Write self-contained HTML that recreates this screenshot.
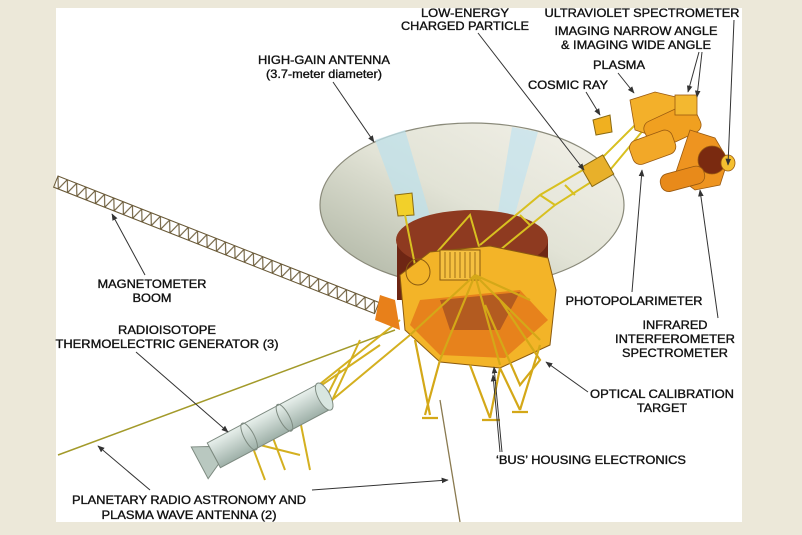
<!DOCTYPE html>
<html><head><meta charset="utf-8"><style>
html,body{margin:0;padding:0;background:#ece8d9;}
svg{display:block}
text{font-family:"Liberation Sans",sans-serif;font-size:12px;fill:#111;stroke:#111;stroke-width:0.35;text-anchor:middle;dominant-baseline:central;}
</style></head><body>
<svg width="802" height="535" viewBox="0 0 802 535" xmlns="http://www.w3.org/2000/svg">
<defs>
<marker id="a" viewBox="0 0 10 10" refX="9" refY="5" markerWidth="7" markerHeight="7" orient="auto-start-reverse"><path d="M0,1 L10,5 L0,9 z" fill="#333"/></marker>
<pattern id="truss" width="10" height="12" patternUnits="userSpaceOnUse"><path d="M0,0 L5,12 L10,0 M0,0 H10 M0,12 H10" stroke="#6a5a38" stroke-width="1.1" fill="none"/></pattern>
<linearGradient id="dish" x1="1" y1="0" x2="0" y2="1"><stop offset="0" stop-color="#f4f2ea"/><stop offset="0.5" stop-color="#e2e3d6"/><stop offset="1" stop-color="#a9b09e"/></linearGradient>
<linearGradient id="rtg" x1="0" y1="0" x2="0" y2="1"><stop offset="0" stop-color="#e8f0ec"/><stop offset="1" stop-color="#9eb0a8"/></linearGradient>
</defs>
<rect x="56" y="8" width="686" height="514" fill="#fff"/>

<!-- magnetometer boom -->
<g transform="translate(58,176) rotate(21.5)">
<rect x="0" y="0" width="345" height="12" fill="url(#truss)" stroke="#6a5a38" stroke-width="1"/>
</g>
<line x1="58" y1="455" x2="395" y2="330" stroke="#a39a2a" stroke-width="1.5"/>
<line x1="440" y1="400" x2="460" y2="522" stroke="#8a7a50" stroke-width="1.3"/>

<!-- dish -->
<ellipse cx="472" cy="205" rx="152" ry="82" fill="url(#dish)" stroke="#8a8a7a" stroke-width="1.2"/>
<path d="M375,140 L405,130 L440,250 L420,262 z" fill="#bfe0ea" opacity="0.75"/>
<path d="M512,127 L538,132 L505,250 L492,248 z" fill="#c4e3ee" opacity="0.75"/>

<!-- RTG boom struts -->
<g stroke="#d4b020" stroke-width="2" fill="none">
<path d="M400,320 L300,400 M410,335 L320,410 M360,340 L330,405 M380,345 L300,400 M340,370 L320,410 M270,430 L285,470 M300,420 L310,470 M250,440 L265,480 M260,445 L300,455"/>
</g>
<g transform="translate(205,460) rotate(-28)">
<rect x="10" y="-14" width="125" height="28" fill="url(#rtg)" stroke="#7d8a80"/>
<ellipse cx="135" cy="0" rx="6" ry="15" fill="#d8e6e0" stroke="#7d8a80"/>
<ellipse cx="50" cy="0" rx="5" ry="15" fill="none" stroke="#7d8a80"/>
<ellipse cx="90" cy="0" rx="5" ry="15" fill="none" stroke="#7d8a80"/>
<path d="M10,-10 L-6,-18 L-6,18 L10,10 z" fill="#b9c8c0" stroke="#7d8a80"/>
</g>

<!-- brown cylinder -->
<path d="M397,240 L397,300 L548,300 L548,240 z" fill="#6e2614"/>
<ellipse cx="472" cy="240" rx="76" ry="30" fill="#8e3a20"/>
<!-- scan platform boom -->
<g stroke="#d8c020" stroke-width="2" fill="none">
<path d="M480,245 L540,195 L600,160 L640,120 M500,250 L555,205 L610,170 L645,128 M540,195 L555,205 M565,185 L575,195 M590,170 L600,178 M520,215 L530,225 M430,260 L470,215 L480,250"/>
</g>
<rect x="585" y="160" width="25" height="22" fill="#e8b02a" stroke="#8a6a10" transform="rotate(-30 597 171)"/>
<path d="M593,120 L610,115 L612,132 L596,135 z" fill="#f0b020" stroke="#8a6a10"/>
<path d="M395,195 L412,193 L414,215 L398,216 z" fill="#f2d02a" stroke="#8a6a10"/>
<line x1="405" y1="215" x2="415" y2="265" stroke="#d8c020" stroke-width="2"/>

<!-- bus -->
<polygon points="400,275 430,252 490,246 548,258 556,290 550,345 500,368 440,362 405,330" fill="#f3b428" stroke="#8a5a10" stroke-width="1"/>
<polygon points="420,300 520,290 548,320 505,358 440,355 410,325" fill="#e7821c"/>
<polygon points="440,300 520,292 500,330 450,330" fill="#9c4a22" opacity="0.7"/>
<rect x="440" y="250" width="40" height="30" fill="#f5c040" stroke="#8a5a10"/>
<g stroke="#8a5a10" stroke-width="0.8"><path d="M445,252 V278 M450,252 V278 M455,252 V278 M460,252 V278 M465,252 V278 M470,252 V278 M475,252 V278"/></g>
<ellipse cx="418" cy="272" rx="12" ry="13" fill="none" stroke="#8a5a10"/>
<polygon points="395,300 380,295 375,320 400,330" fill="#e8801a"/>
<g stroke="#d4a818" stroke-width="2.2" fill="none">
<path d="M475,275 L410,335 M475,275 L440,360 M475,275 L500,365 M475,275 L540,340 M475,275 L530,300 M415,340 L430,415 M440,360 L425,415 M470,365 L490,418 M500,368 L490,418 M500,368 L520,410 M540,345 L520,410 M485,305 L520,385 L540,360 L500,300"/>
<path d="M422,418 L438,418 M482,420 L500,420 M512,412 L528,412"/>
</g>

<!-- instruments cluster -->
<g stroke="#9a5a10" stroke-width="0.8">
<polygon points="630,100 655,92 680,98 690,120 665,140 635,130" fill="#f3b02a"/>
<rect x="645" y="112" width="55" height="30" rx="8" fill="#f0a020" transform="rotate(-25 672 127)"/>
<rect x="630" y="135" width="45" height="25" rx="8" fill="#f2a828" transform="rotate(-20 652 147)"/>
<polygon points="690,130 715,138 728,160 720,185 695,190 675,175" fill="#ee9420"/>
<ellipse cx="712" cy="160" rx="14" ry="14" fill="#7a2a10"/>
<rect x="660" y="170" width="45" height="18" rx="8" fill="#e88a1a" transform="rotate(-15 682 179)"/>
<ellipse cx="728" cy="163" rx="7" ry="8" fill="#f5c030"/>
<rect x="675" y="95" width="22" height="20" fill="#f3b830"/>
</g>

<g stroke="#333" stroke-width="1" fill="none" marker-end="url(#a)">
<line x1="333" y1="82" x2="374" y2="142"/>
<line x1="478" y1="33" x2="584" y2="170"/>
<line x1="586" y1="92" x2="600" y2="115"/>
<line x1="618" y1="73" x2="634" y2="93"/>
<line x1="699" y1="52" x2="688" y2="92"/>
<line x1="702" y1="52" x2="697" y2="97"/>
<line x1="734" y1="20" x2="728" y2="165"/>
<line x1="632" y1="292" x2="642" y2="170"/>
<line x1="718" y1="318" x2="700" y2="190"/>
<line x1="588" y1="392" x2="546" y2="362"/>
<line x1="502" y1="452" x2="494" y2="367"/>
<line x1="500" y1="452" x2="493" y2="375"/>
<line x1="145" y1="275" x2="112" y2="214"/>
<line x1="136" y1="352" x2="228" y2="432"/>
<line x1="150" y1="490" x2="98" y2="446"/>
<line x1="312" y1="490" x2="448" y2="480"/>
</g>

<text x="465" y="13" textLength="88" lengthAdjust="spacingAndGlyphs">LOW-ENERGY</text>
<text x="465" y="26" textLength="128" lengthAdjust="spacingAndGlyphs">CHARGED PARTICLE</text>
<text x="642" y="13" textLength="195" lengthAdjust="spacingAndGlyphs">ULTRAVIOLET SPECTROMETER</text>
<text x="636" y="31" textLength="163" lengthAdjust="spacingAndGlyphs">IMAGING NARROW ANGLE</text>
<text x="636" y="45" textLength="150" lengthAdjust="spacingAndGlyphs">&amp; IMAGING WIDE ANGLE</text>
<text x="619" y="65" textLength="52" lengthAdjust="spacingAndGlyphs">PLASMA</text>
<text x="568" y="85" textLength="80" lengthAdjust="spacingAndGlyphs">COSMIC RAY</text>
<text x="324" y="60" textLength="132" lengthAdjust="spacingAndGlyphs">HIGH-GAIN ANTENNA</text>
<text x="324" y="74" textLength="116" lengthAdjust="spacingAndGlyphs">(3.7-meter diameter)</text>
<text x="152" y="284" textLength="109" lengthAdjust="spacingAndGlyphs">MAGNETOMETER</text>
<text x="152" y="298" textLength="39" lengthAdjust="spacingAndGlyphs">BOOM</text>
<text x="167" y="330" textLength="98" lengthAdjust="spacingAndGlyphs">RADIOISOTOPE</text>
<text x="167" y="344" textLength="223" lengthAdjust="spacingAndGlyphs">THERMOELECTRIC GENERATOR (3)</text>
<text x="634" y="301" textLength="137" lengthAdjust="spacingAndGlyphs">PHOTOPOLARIMETER</text>
<text x="675" y="325" textLength="65" lengthAdjust="spacingAndGlyphs">INFRARED</text>
<text x="675" y="339" textLength="120" lengthAdjust="spacingAndGlyphs">INTERFEROMETER</text>
<text x="675" y="353" textLength="106" lengthAdjust="spacingAndGlyphs">SPECTROMETER</text>
<text x="662" y="394" textLength="144" lengthAdjust="spacingAndGlyphs">OPTICAL CALIBRATION</text>
<text x="662" y="408" textLength="50" lengthAdjust="spacingAndGlyphs">TARGET</text>
<text x="591" y="460" textLength="190" lengthAdjust="spacingAndGlyphs">‘BUS’ HOUSING ELECTRONICS</text>
<text x="189" y="500" textLength="234" lengthAdjust="spacingAndGlyphs">PLANETARY RADIO ASTRONOMY AND</text>
<text x="189" y="515" textLength="175" lengthAdjust="spacingAndGlyphs">PLASMA WAVE ANTENNA (2)</text>
</svg>
</body></html>
